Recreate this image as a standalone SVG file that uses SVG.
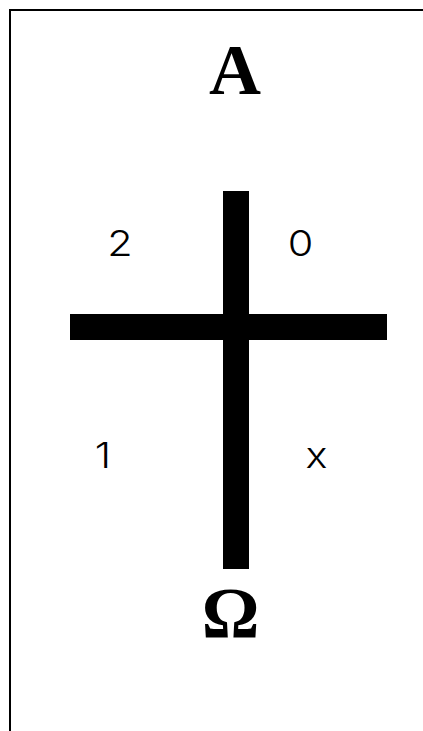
<svg xmlns="http://www.w3.org/2000/svg" width="423" height="731" viewBox="0 0 423 731">
<style>
.bar{fill:#000}
.big{font-family:"Liberation Serif","Times New Roman",serif;font-weight:bold;font-size:72px;fill:#000;text-anchor:middle}
.lab{font-family:Inter,"Open Sans",sans-serif;font-weight:300;font-size:36px;fill:#000;text-anchor:middle}
</style>
<rect width="423" height="731" fill="#fff"/>
<path d="M10,731 L10,10 L423,10" fill="none" stroke="#000" stroke-width="2"/>
<g id="cross">
<rect class="bar" x="223" y="191" width="26" height="378"/>
<rect class="bar" x="70" y="314" width="317" height="26"/>
</g>
<g id="alpha"><text class="big" x="235" y="94">A</text></g>
<g id="omega"><text class="big" x="230.5" y="637">Ω</text></g>
<g id="label-2"><text class="lab" transform="translate(120,256) scale(1.15,1)">2</text></g>
<g id="label-0"><text class="lab" transform="translate(300.5,256) scale(1.15,1)">0</text></g>
<g id="label-1"><text class="lab" transform="translate(103,468) scale(1.15,1)">1</text></g>
<g id="label-x"><text class="lab" transform="translate(316.5,468) scale(1.15,1)">x</text></g>
</svg>
